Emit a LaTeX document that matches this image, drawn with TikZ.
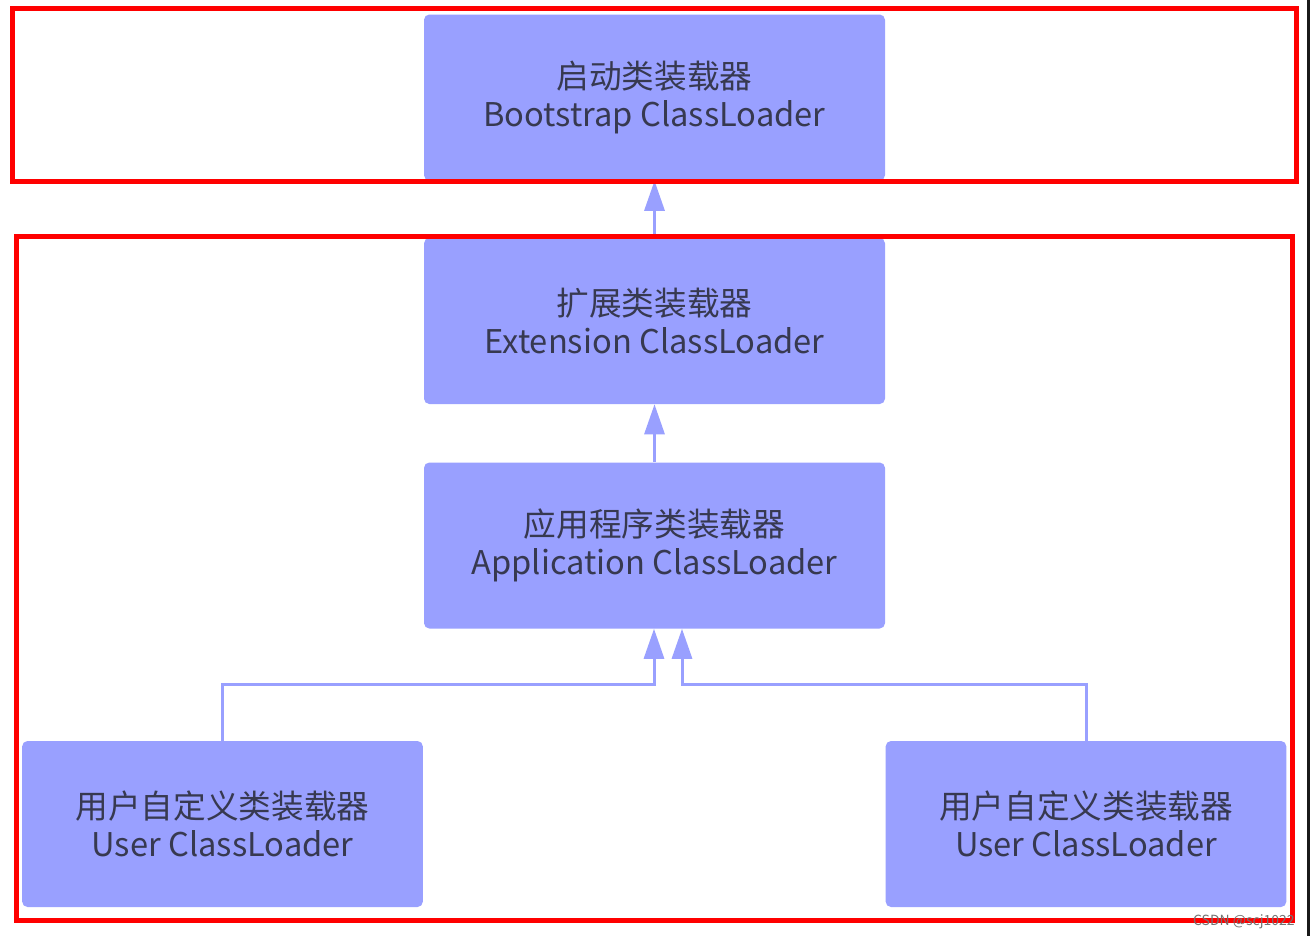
\documentclass[tikz,border=0pt]{standalone}
\usepackage{fontspec}
\usepackage{tikz}
\usetikzlibrary{arrows.meta,positioning}
\setmainfont{Noto Sans CJK SC}
\definecolor{loader_blue}{RGB}{153,160,255}
\definecolor{frame_red}{RGB}{255,0,0}
\definecolor{text_gray}{RGB}{55,57,80}

\tikzset{
  loaderbox/.style={fill=loader_blue,rounded corners=4pt,inner sep=0pt,
    align=center,font=\fontsize{24.5}{28.5}\selectfont,text=text_gray,
    minimum width=345.75pt,minimum height=124.5pt},
  userbox/.style={loaderbox,minimum width=300.5pt},
  uparrow/.style={loader_blue,line width=2.25pt,-{Triangle[length=22.5pt,width=15pt]}},
  redframe/.style={frame_red,line width=3.75pt}
}

\begin{document}
\begin{tikzpicture}[x=0.75pt,y=-0.75pt]
          \useasboundingbox (0,0) rectangle (1310,940);
          \fill[white] (0,0) rectangle (1310,940);
          \fill[black!90] (1307,0) rectangle (1310,936);
          % loaders
          \node[loaderbox] (boot) at (654.5,97.5) {启动类装载器\\Bootstrap ClassLoader};
          \node[loaderbox] (ext) at (654.5,321) {扩展类装载器\\Extension ClassLoader};
          \node[loaderbox] (app) at (654.5,545.5) {应用程序类装载器\\Application ClassLoader};
          \node[userbox] (userL) at (222.5,824) {用户自定义类装载器\\User ClassLoader};
          \node[userbox] (userR) at (1086,824) {用户自定义类装载器\\User ClassLoader};
          % delegation
          \draw[uparrow] (ext.north) -- (boot.south);
          \draw[uparrow] (app.north) -- (ext.south);
          \coordinate (jL) at (654,684);
          \coordinate (jR) at (682,684);
          \draw[uparrow] (userL.north) |- (jL) -- (app.south -| jL);
          \draw[uparrow] (userR.north) |- (jR) -- (app.south -| jR);
          % frames
          \draw[redframe] (12.5,8.5) rectangle (1296.5,181.5);
          \draw[redframe] (16.5,236) rectangle (1292.5,920);
          \node[font=\fontsize{10.5}{12}\selectfont,text=black!55,anchor=south east,inner sep=0pt] (mark) at (1295,929) {CSDN @scj1022};
        \end{tikzpicture}
\end{document}
